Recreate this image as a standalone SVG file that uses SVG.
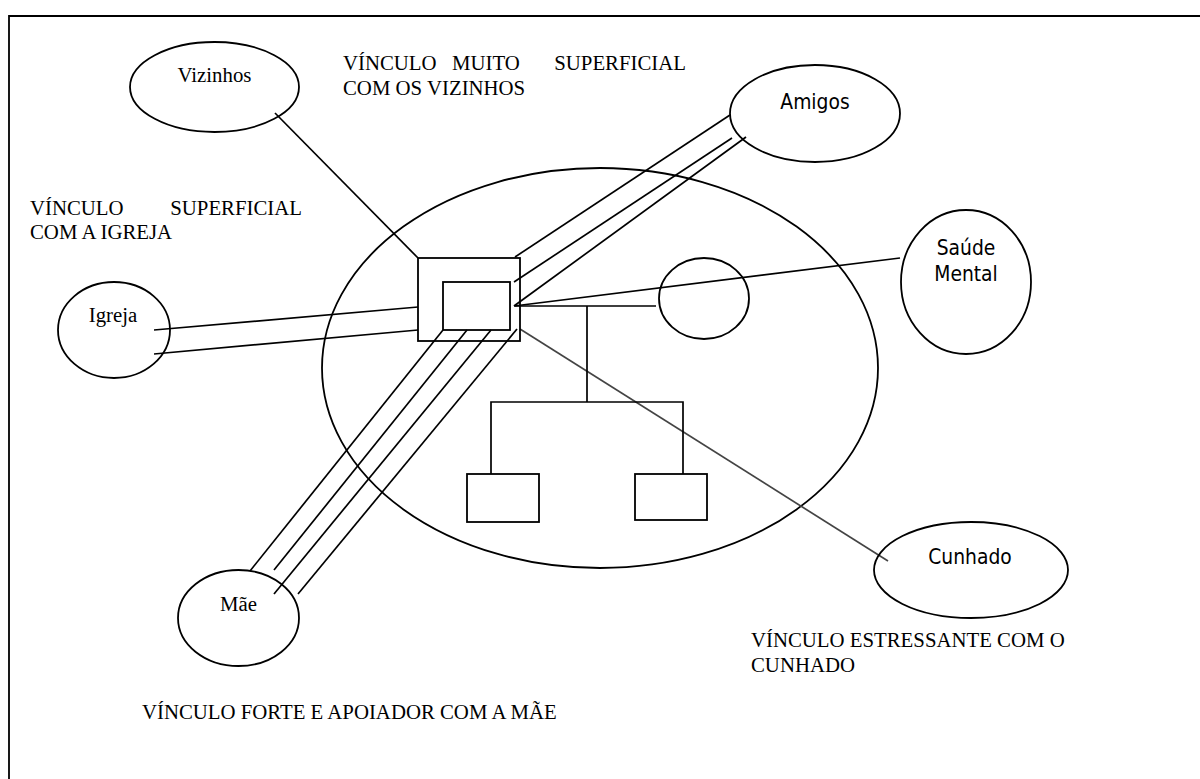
<svg xmlns="http://www.w3.org/2000/svg" width="1200" height="779" viewBox="0 0 1200 779">
  <style>
    .shape { fill: none; stroke: #000; stroke-width: 1.8; }
    .link { fill: none; stroke: #000; stroke-width: 1.7; }
    .link-gray { fill: none; stroke: #444; stroke-width: 1.7; }
    .serif { font-family: "Liberation Serif", "Times New Roman", serif; font-size: 20.8px; fill: #000; }
    .sans { font-family: "DejaVu Sans Condensed", "DejaVu Sans", sans-serif; font-stretch: condensed; font-size: 20.8px; fill: #000; }
  </style>
  <rect width="1200" height="779" fill="#fff"/>

  <!-- frame -->
  <path d="M9,779 V16 H1200" class="shape"/>

  <!-- household boundary -->
  <g id="household">
    <ellipse cx="600" cy="368" rx="278" ry="200" class="shape"/>
  </g>

  <!-- connectors -->
  <g id="connectors">
    <!-- Vizinhos: superficial -->
    <line x1="275" y1="113" x2="418" y2="258" class="link"/>
    <!-- Igreja: double line -->
    <line x1="154" y1="330" x2="418" y2="307" class="link"/>
    <line x1="154" y1="354" x2="418" y2="330" class="link"/>
    <!-- Amigos: triple line -->
    <line x1="515" y1="257" x2="730" y2="115" class="link"/>
    <line x1="514" y1="282" x2="732" y2="138" class="link"/>
    <line x1="514" y1="306" x2="746" y2="137" class="link"/>
    <!-- Saúde Mental -->
    <line x1="514" y1="306" x2="900" y2="258" class="link"/>
    <!-- Mãe: four lines -->
    <line x1="443" y1="330" x2="250" y2="571" class="link"/>
    <line x1="467" y1="330" x2="274" y2="570" class="link"/>
    <line x1="491" y1="330" x2="274" y2="594" class="link"/>
    <line x1="517" y1="329" x2="298" y2="594" class="link"/>
    <!-- Cunhado: stressful -->
    <line x1="520" y1="329" x2="888" y2="561" class="link-gray"/>
    <!-- family tree -->
    <path d="M515,306 H656 M587,306 V402 M491,474 V402 H683 V474" class="link"/>
  </g>

  <!-- family members -->
  <g id="index-person">
    <rect x="418" y="258" width="102" height="83" class="shape"/>
    <rect x="443" y="282" width="67" height="48" class="shape"/>
  </g>
  <g id="partner">
    <ellipse cx="704" cy="298.5" rx="45" ry="40.5" class="shape"/>
  </g>
  <g id="child-1">
    <rect x="467" y="474" width="72" height="48" class="shape"/>
  </g>
  <g id="child-2">
    <rect x="635" y="474" width="72" height="46" class="shape"/>
  </g>

  <!-- external network -->
  <g id="vizinhos">
    <ellipse cx="214.5" cy="87" rx="84.5" ry="45" class="shape"/>
    <text x="214.5" y="82" class="serif" text-anchor="middle">Vizinhos</text>
  </g>
  <g id="amigos">
    <ellipse cx="815" cy="113.5" rx="85" ry="48.5" class="shape"/>
    <text x="815" y="109" class="sans" text-anchor="middle">Amigos</text>
  </g>
  <g id="saude-mental">
    <ellipse cx="966" cy="282" rx="65" ry="72" class="shape"/>
    <text x="966" y="255" class="sans" text-anchor="middle">Saúde</text>
    <text x="966" y="281" class="sans" text-anchor="middle">Mental</text>
  </g>
  <g id="igreja">
    <ellipse cx="114" cy="330" rx="56" ry="48" class="shape"/>
    <text x="113" y="322" class="serif" text-anchor="middle">Igreja</text>
  </g>
  <g id="mae">
    <ellipse cx="238.5" cy="618" rx="60.5" ry="48" class="shape"/>
    <text x="238.5" y="611" class="serif" text-anchor="middle">Mãe</text>
  </g>
  <g id="cunhado">
    <ellipse cx="971" cy="570" rx="97" ry="48" class="shape"/>
    <text x="970" y="564" class="sans" text-anchor="middle">Cunhado</text>
  </g>

  <!-- annotations -->
  <g id="notes" class="serif">
    <text x="343" y="70">VÍNCULO</text>
    <text x="452" y="70">MUITO</text>
    <text x="686" y="70" text-anchor="end">SUPERFICIAL</text>
    <text x="343" y="95">COM OS VIZINHOS</text>

    <text x="30" y="215">VÍNCULO</text>
    <text x="302" y="215" text-anchor="end">SUPERFICIAL</text>
    <text x="30" y="239">COM A IGREJA</text>

    <text x="751" y="647">VÍNCULO ESTRESSANTE COM O</text>
    <text x="751" y="672">CUNHADO</text>

    <text x="142" y="719">VÍNCULO FORTE E APOIADOR COM A MÃE</text>
  </g>
</svg>
